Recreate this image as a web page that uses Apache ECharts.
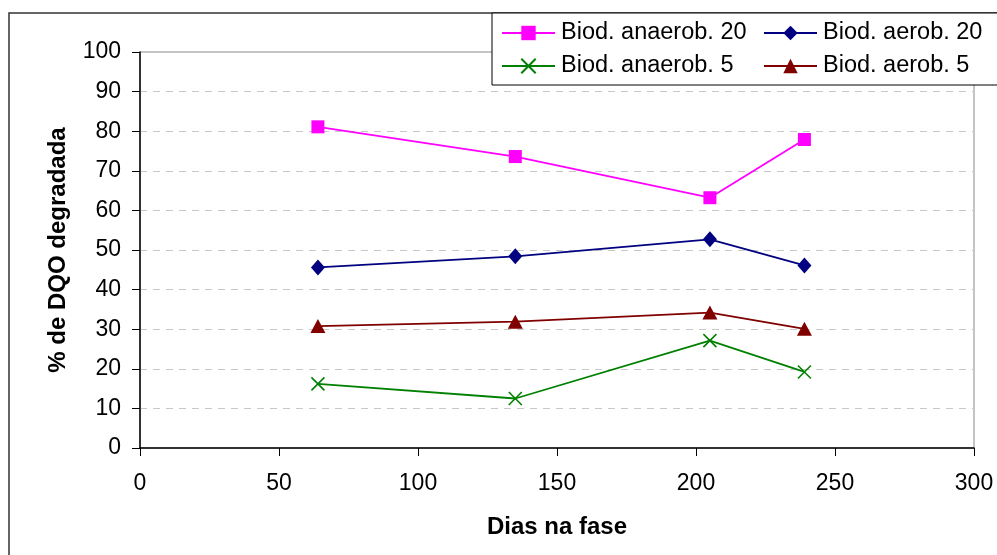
<!DOCTYPE html>
<html>
<head>
<meta charset="utf-8">
<script src="https://cdn.jsdelivr.net/npm/echarts@6/dist/echarts.min.js"></script>
<style>html,body{margin:0;padding:0;background:#fff}#c{width:997px;height:555px}</style>
</head>
<body>
<div id="c"></div>
<script>
const days = [64, 135, 205, 239];
const anaerob20 = [81.1, 73.6, 63.2, 77.9];
const aerob20 = [45.6, 48.4, 52.7, 46.1];
const anaerob5 = [16.2, 12.5, 27.1, 19.2];
const aerob5 = [30.8, 31.9, 34.2, 30.1];
const names = ['Biod. anaerob. 20', 'Biod. aerob. 20', 'Biod. anaerob. 5', 'Biod. aerob. 5'];
const xTicks = [0, 300, 50];
const yTicks = [0, 100, 10];

const FONT = '"Liberation Sans", Arial, sans-serif';
const XMARK = 'path://M0,0L10,10M10,0L0,10';

function pts(vals) { return days.map((d, i) => [d, vals[i]]); }

const chart = echarts.init(document.getElementById('c'));
const legendCommon = {
  itemWidth: 53, itemHeight: 18, itemGap: 0, padding: 0,
  textStyle: { fontFamily: FONT, fontSize: 23.5, color: '#000', padding: [0, 0, 0, 1] },
  z: 10, selectedMode: false
};
chart.setOption({
  animation: false,
  backgroundColor: '#fff',
  textStyle: { fontFamily: FONT },
  graphic: [
    { type: 'rect', z: 1, shape: { x: 9, y: 13, width: 1100, height: 700 },
      style: { fill: 'none', stroke: '#333', lineWidth: 1.5 } },
    { type: 'rect', z: 5, shape: { x: 492, y: 13, width: 600, height: 72 },
      style: { fill: '#fff', stroke: '#000', lineWidth: 1 } }
  ],
  legend: [
    Object.assign({ data: [names[0]], left: 501, top: 21 }, legendCommon),
    Object.assign({ data: [names[1]], left: 763, top: 21 }, legendCommon),
    Object.assign({ data: [names[2]], left: 501, top: 54 }, legendCommon),
    Object.assign({ data: [names[3]], left: 763, top: 54 }, legendCommon)
  ],
  grid: { left: 140, right: 23, top: 52, bottom: 107, show: true, borderColor: '#8a8a8a', borderWidth: 1, backgroundColor: 'transparent' },
  xAxis: {
    type: 'value', min: xTicks[0], max: xTicks[1], interval: xTicks[2],
    name: 'Dias na fase', nameLocation: 'middle', nameGap: 67,
    nameTextStyle: { fontFamily: FONT, fontSize: 24, fontWeight: 'bold', color: '#000' },
    axisLine: { show: true, onZero: false, lineStyle: { color: '#000', width: 1.5 } },
    axisTick: { show: true, length: 8, lineStyle: { color: '#000', width: 1 } },
    axisLabel: { fontFamily: FONT, fontSize: 23, color: '#000', margin: 24 },
    splitLine: { show: false }
  },
  yAxis: {
    type: 'value', min: yTicks[0], max: yTicks[1], interval: yTicks[2],
    name: '% de DQO degradada', nameLocation: 'middle', nameGap: 70,
    nameTextStyle: { fontFamily: FONT, fontSize: 24, fontWeight: 'bold', color: '#000' },
    axisLine: { show: true, onZero: false, lineStyle: { color: '#000', width: 1.5 } },
    axisTick: { show: true, length: 8, lineStyle: { color: '#000', width: 1 } },
    axisLabel: { fontFamily: FONT, fontSize: 23, color: '#000', margin: 19 },
    splitLine: { show: true, showMinLine: false, showMaxLine: false, lineStyle: { color: '#c8c8c8', width: 1, type: [7, 6] } }
  },
  series: [
    { name: names[0], type: 'line', data: pts(anaerob20), color: '#ff00ff',
      symbol: 'rect', symbolSize: 13, lineStyle: { width: 1.8, color: '#ff00ff' }, itemStyle: { color: '#ff00ff' } },
    { name: names[1], type: 'line', data: pts(aerob20), color: '#000080',
      symbol: 'diamond', symbolSize: [14, 16], lineStyle: { width: 1.8, color: '#000080' }, itemStyle: { color: '#000080' } },
    { name: names[2], type: 'line', data: pts(anaerob5), color: '#008000',
      symbol: XMARK, symbolSize: 13, lineStyle: { width: 1.8, color: '#008000' },
      itemStyle: { color: '#008000', borderColor: '#008000', borderWidth: 1.6 } },
    { name: names[3], type: 'line', data: pts(aerob5), color: '#800000',
      symbol: 'triangle', symbolSize: [15, 14], lineStyle: { width: 1.8, color: '#800000' }, itemStyle: { color: '#800000' } }
  ]
});
</script>
</body>
</html>
